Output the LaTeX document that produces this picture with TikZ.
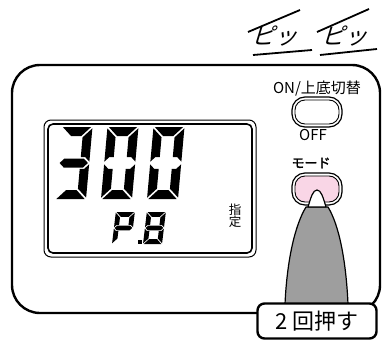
\documentclass[tikz,border=0pt]{standalone}
\usepackage{fontspec}
\newfontfamily\jp{Noto Sans CJK JP}
\newfontfamily\jpb[FakeBold=2]{Noto Sans CJK JP}
\definecolor{btnpink}{RGB}{249,214,230}
\definecolor{pengray}{RGB}{158,158,158}

% seven-segment pieces, local frame: origin bottom-left, y up
% \dW width, \dH height, \dT stroke, \dh half height, \dg gap
\newcommand\lcdsega{\fill (\dg,\dH) -- (\dW-\dg,\dH) -- (\dW-\dT-\dg,\dH-\dT) -- (\dT+\dg,\dH-\dT) -- cycle;}
\newcommand\lcdsegb{\fill (\dW,\dH-\dg) -- (\dW,\dh+\dg) -- (\dW-\dT/2,\dh+\dT/2+\dg) -- (\dW-\dT,\dh+\dT/2+\dg) -- (\dW-\dT,\dH-\dT-\dg) -- cycle;}
\newcommand\lcdsegc{\fill (\dW,\dg) -- (\dW,\dh-\dg) -- (\dW-\dT/2,\dh-\dT/2-\dg) -- (\dW-\dT,\dh-\dT/2-\dg) -- (\dW-\dT,\dT+\dg) -- cycle;}
\newcommand\lcdsegd{\fill (\dg,0) -- (\dW-\dg,0) -- (\dW-\dT-\dg,\dT) -- (\dT+\dg,\dT) -- cycle;}
\newcommand\lcdsege{\fill (0,\dg) -- (0,\dh-\dg) -- (\dT/2,\dh-\dT/2-\dg) -- (\dT,\dh-\dT/2-\dg) -- (\dT,\dT+\dg) -- cycle;}
\newcommand\lcdsegf{\fill (0,\dH-\dg) -- (0,\dh+\dg) -- (\dT/2,\dh+\dT/2+\dg) -- (\dT,\dh+\dT/2+\dg) -- (\dT,\dH-\dT-\dg) -- cycle;}
\newcommand\lcdsegg{\fill (\dg,\dh) -- (\dT/2+\dg,\dh+\dT/2) -- (\dW-\dT/2-\dg,\dh+\dT/2) -- (\dW-\dg,\dh) -- (\dW-\dT/2-\dg,\dh-\dT/2) -- (\dT/2+\dg,\dh-\dT/2) -- cycle;}

% #1 x, #2 baseline y, #3 width, #4 height, #5 stroke, #6 lean, #7 segments
\newcommand\lcddigit[7]{%
  \begin{scope}[shift={(#1,#2)},xslant=#6,yscale=-1]
    \def\dW{#3}\def\dH{#4}\def\dT{#5}%
    \pgfmathsetmacro\dh{#4/2}%
    \pgfmathsetmacro\dg{#5*0.15}%
    \foreach \s in {#7}{\csname lcdseg\s\endcsname}
  \end{scope}}

\tikzset{
  panel/.style={draw, line width=2.4, rounded corners=28},
  lcdouter/.style={draw, line width=1.0, rounded corners=7},
  lcdinner/.style={draw, line width=1.6, rounded corners=5},
  btnrim/.style={draw, line width=1.2, rounded corners=13, fill=white},
  btnface/.style={draw, line width=0.9, rounded corners=10},
  beep/.style={font=\jp\fontsize{23}{23}\selectfont, inner sep=0pt, xslant=0.3},
  beepline/.style={line width=1.8},
  lbl/.style={inner sep=0pt, font=\jp\fontsize{#1}{#1}\selectfont},
  callout/.style={draw, line width=2.4, rounded corners=7, fill=white,
    minimum width=119, minimum height=35, inner sep=0pt,
    font=\jp\fontsize{22}{22}\selectfont}
}

\begin{document}
\begin{tikzpicture}[x=1pt,y=-1pt,line join=round]
\useasboundingbox (0,0) rectangle (382,340);

% device body
\draw[panel] (12,65) rectangle (380,313);

% display window
\draw[lcdouter] (44,120) rectangle (256,257);
\draw[lcdinner] (48,124) rectangle (252,253);

% "300"
\lcddigit{55}{199}{31}{72}{9}{0.09}{a,b,c,d,g}
\lcddigit{101}{199}{31}{72}{9}{0.09}{a,b,c,d,e,f}
\lcddigit{147}{199}{31}{72}{9}{0.09}{a,b,c,d,e,f}

% "P.8"
\lcddigit{112}{244}{19}{32}{4.8}{0.12}{a,b,e,f,g}
\fill (137.5,240) -- (141.5,240) -- (141.5,244) -- (137.5,244) -- cycle;
\lcddigit{143}{244}{19}{32}{4.8}{0.12}{a,b,c,d,e,f,g}

\node[lbl=12.5, align=center] (shitei) at (235,216) {指\\[-1pt]定};

% power / bottom switch button
\node[lbl=15] (onlabel) at (317,89) {ON/上底切替};
\draw[btnrim] (292,97) rectangle (342,127);
\draw[btnface, fill=white] (295,100) rectangle (339,124);
\node[lbl=15] (offlabel) at (313,135) {OFF};

% mode button
\node[inner sep=0pt, font=\jpb\fontsize{13}{13}\selectfont] (modelabel) at (311,163) {モード};
\draw[btnrim] (292,173) rectangle (342,205);
\draw[btnface, fill=btnpink] (295,176) rectangle (339,202);

% pen pressing the mode button
\draw[fill=pengray, line width=1.2] (285,304) .. controls (287,260) and (295,225) .. (306,207)
  -- (328,207) .. controls (339,225) and (346,260) .. (348,304) -- cycle;
\draw[fill=white, line width=1.2] (308,207) .. controls (311,197) and (313,190) .. (317,190)
  .. controls (321,190) and (323,197) .. (326,207) -- cycle;

% callout
\node[callout] (press) at (317,321) {2 回押す};

% beep marks
\draw[beepline] (248,32) -- (300,10);
\draw[beepline] (253,55) -- (312,50);
\node[beep] (beep1) at (277,36) {ピッ};
\draw[beepline] (317,32) -- (369,9);
\draw[beepline] (320,55) -- (377,49);
\node[beep] (beep2) at (347,36) {ピッ};
\end{tikzpicture}
\end{document}
